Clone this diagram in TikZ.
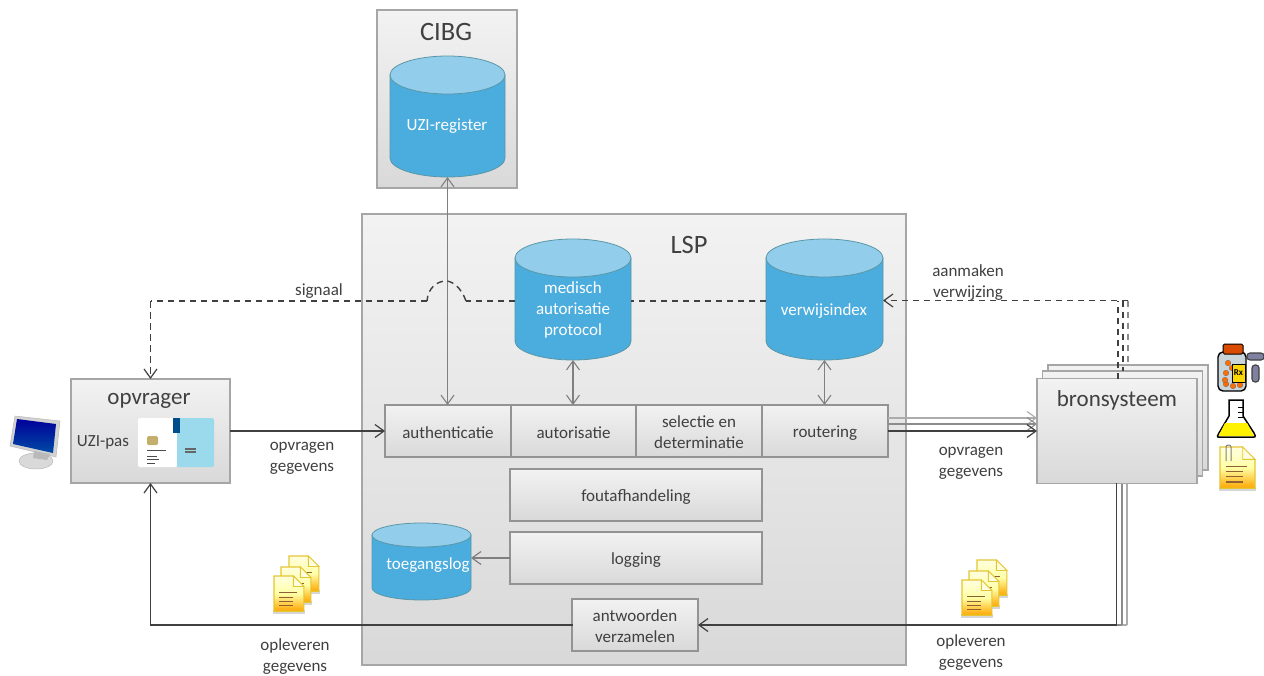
\documentclass[tikz,border=0pt]{standalone}
\usepackage{fontspec}
\setmainfont{Carlito}
\usetikzlibrary{arrows.meta,calc}
\definecolor{txt}{HTML}{404040}
\definecolor{edgegray}{HTML}{A6A6A6}
\definecolor{dbblue}{HTML}{4BACDE}
\definecolor{dbtop}{HTML}{92CEEC}
\definecolor{dbedge}{HTML}{5A97A6}
\definecolor{linedark}{HTML}{404040}
\definecolor{cardblue}{HTML}{9BD9EC}
\definecolor{chip}{HTML}{C4AE6E}
\definecolor{pill}{HTML}{8080A0}
\newcommand{\lowstrut}{\rule{0pt}{15pt}}
\tikzset{
  x=1pt,y=-1pt,
  every node/.style={font=\fontsize{17}{21}\selectfont,text=txt,inner sep=0pt,outer sep=0pt},
  grad/.style={draw=edgegray,line width=1.6pt,top color=gray!10,bottom color=gray!30},
  procbox/.style={grad,draw=gray!85,line width=1.2pt,align=center,anchor=center},
  lab/.style={align=center,text=txt},
  big/.style={font=\fontsize{26.5}{30}\selectfont},
  mid/.style={font=\fontsize{23}{27}\selectfont},
  dbtext/.style={align=center,text=white},
  tip/.style={-{Straight Barb[length=9pt,width=13pt,line width=1.2pt]}},
  flow/.style={draw=linedark,line width=1.4pt,line cap=rect},
  twoway/.style={draw=gray,line width=1.1pt,{Straight Barb[length=9pt,width=13pt]}-{Straight Barb[length=9pt,width=13pt]}},
  dash line/.style={draw=linedark,line width=1.4pt,dash pattern=on 6.5pt off 4.5pt},
  mid line/.style={draw=gray!90,line width=1.1pt},
  light line/.style={draw=gray!65,line width=1.1pt},
}
% name, centre x, top, bottom, half width, ellipse half height
\newcommand{\dbcyl}[6]{%
  \path[fill=dbblue,draw=dbedge,line width=.8pt]
    ({#2-#5},{#3+#6}) -- ({#2-#5},{#4-#6})
    .. controls ({#2-#5},{#4-#6*0.45}) and ({#2-#5*0.55},{#4}) .. ({#2},{#4})
    .. controls ({#2+#5*0.55},{#4}) and ({#2+#5},{#4-#6*0.45}) .. ({#2+#5},{#4-#6})
    -- ({#2+#5},{#3+#6}) -- cycle;
  \path[fill=dbtop,draw=dbedge,line width=.8pt]
    ({#2-#5},{#3+#6})
    .. controls ({#2-#5},{#3+#6*0.45}) and ({#2-#5*0.55},{#3}) .. ({#2},{#3})
    .. controls ({#2+#5*0.55},{#3}) and ({#2+#5},{#3+#6*0.45}) .. ({#2+#5},{#3+#6})
    .. controls ({#2+#5},{#3+#6*1.55}) and ({#2+#5*0.55},{#3+2*#6}) .. ({#2},{#3+2*#6})
    .. controls ({#2-#5*0.55},{#3+2*#6}) and ({#2-#5},{#3+#6*1.55}) .. ({#2-#5},{#3+#6}) -- cycle;
  \node[minimum width=2*#5 pt,minimum height={(#4-#3)*1pt}] (#1) at ({#2},{(#3+#4)/2}) {};
}
% document icon: x, y of top left, scale
\newcommand{\docicon}[3]{%
  \begin{scope}[shift={(#1,#2)},scale=#3]
    \fill[black!35,opacity=.45] (-1,39) rectangle (35,43);
    \path[top color=yellow!12!white,bottom color=orange!70!yellow,middle color=yellow!35!white,draw=yellow!55!brown,line width=1.1pt]
      (0,0) -- (22,0) -- (34,12) -- (34,40) -- (0,40) -- cycle;
    \path[fill=yellow!12,draw=yellow!55!brown,line width=.8pt] (22,0) -- (34,12) -- (22,12) -- cycle;
    \foreach \yy/\ww in {19/26,24/22,29/22,34/22}
      \draw[draw=brown!75!black,line width=1.1pt] (6,\yy) -- (\ww,\yy);
  \end{scope}}
\begin{document}
\begin{tikzpicture}
\useasboundingbox (0,0) rectangle (1264,675);
\fill[white] (0,0) rectangle (1264,675);

% panels
\node[grad,minimum width=140pt,minimum height=178pt] (cibg) at (447,99) {};
\node[big] (cibgt) at (446,32) {CIBG};
\node[grad,minimum width=544pt,minimum height=451pt] (lsp) at (634,439.5) {};
\node[big] (lspt) at (689,245) {LSP};

% cylinders
\dbcyl{uzi}{447.5}{56}{177}{57.5}{19}
\node[dbtext] (uzit) at (447,126) {UZI-register};
\dbcyl{map}{573}{239}{360}{58}{19}
\node[dbtext] (mapt) at (573,310) {medisch\\autorisatie\\protocol};
\dbcyl{vwi}{824.5}{239}{360}{58.5}{19}
\node[dbtext] (vwit) at (824,311) {verwijsindex};
\dbcyl{log}{421.5}{523}{600}{49.5}{12}
\node[dbtext] (logt) at (428,565) {toegangslog};

% process boxes
\node[procbox,minimum width=126pt,minimum height=52pt] (authent) at (448,431) {\lowstrut authenticatie};
\node[procbox,minimum width=125pt,minimum height=52pt] (autor) at (573.5,431) {\lowstrut autorisatie};
\node[procbox,minimum width=126pt,minimum height=52pt] (select) at (699,431) {\lowstrut selectie en\\determinatie};
\node[procbox,minimum width=126pt,minimum height=52pt] (rout) at (825,431) {\lowstrut routering};
\node[procbox,minimum width=252pt,minimum height=52pt] (fout) at (636,495) {\lowstrut foutafhandeling};
\node[procbox,minimum width=252pt,minimum height=52pt] (logging) at (636,558) {\lowstrut logging};
\node[procbox,minimum width=126pt,minimum height=52pt] (antw) at (635,625) {\lowstrut antwoorden\\verzamelen};

% request flows to the stack (heads sit against its edge)
\coordinate (routa) at ($(rout.east)+(0,-13)$);
\coordinate (routb) at ($(rout.east)+(0,-7)$);
\draw[light line,-{Straight Barb[length=9pt,width=13pt]}] (routa) -- (1037,418);
\draw[mid line,-{Straight Barb[length=9pt,width=13pt]}] (routb) -- (1037,424);

% answers: the two rear lines run behind the stack
\draw[light line] (1127,470) -- (1127,625);
\draw[light line] (1127,625) -- (700,625);
\draw[mid line] (1122,476) -- (1122,625);
\draw[mid line] (1122,625) -- (700,625);

% opvrager
\node[grad,minimum width=159pt,minimum height=104pt] (opv) at (150.5,431) {};
\node[mid] (opvt) at (149,401) {opvrager};
\node (uzipas) at (103,442) {UZI-pas};

% bronsysteem stack
\node[grad,minimum width=160pt,minimum height=105pt] (bron3) at (1128,417.5) {};
\node[grad,minimum width=160pt,minimum height=105pt] (bron2) at (1122.5,423.5) {};
\node[grad,minimum width=160pt,minimum height=105pt] (bron) at (1117,431) {};
\node[mid] (bront) at (1117,400) {bronsysteem};

% two-way connectors
\draw[twoway] (uzi.south) -- (uzi.south |- authent.north);
\draw[twoway] (map.south) -- (map.south |- autor.north);
\draw[twoway] (vwi.south) -- (vwi.south |- rout.north);
\draw[draw=gray,line width=1.1pt,tip] (logging.west) -- (logging.west -| log.east);

\draw[flow,line cap=butt,tip] (opv.east) -- (authent.west);
\draw[flow,line cap=butt,tip] (rout.east) -- (bron.west);

% signal
\coordinate (sigr) at (map.east |- 0,301);
\draw[dash line] (vwi.west |- sigr) -- (map.east |- sigr);
\coordinate (hopr) at (466,301);
\coordinate (hopl) at (427,301);
\draw[dash line] (map.west |- hopr) -- (hopr);
\draw[dash line] (hopr)
  .. controls (461,287) and (452,281) .. (446,281)
  .. controls (438,281) and (428,287) .. (hopl);
\draw[dash line] (hopl) -- (opv.north |- hopl);
\draw[dash line,tip] (opv.north |- hopl) -- (opv.north);

% aanmaken verwijzing
\coordinate (vwe) at (vwi.east |- 0,300.5);
\draw[dash line,draw=gray!90] (1128,300.5) -- (1128,365);
\draw[dash line] (1123,300.5) -- (1123,371);
\draw[dash line] (1118,379) -- (1118,300.5);
\draw[dash line,tip] (1128,300.5) -- (vwe);

% answers, front line
\coordinate (ansc) at (1116.5,625);
\draw[flow] (ansc |- bron.south) -- (ansc);
\draw[flow,line cap=butt,tip] (ansc) -- (antw.east);
\coordinate (ansl) at (opv.south |- antw.west);
\draw[flow] (antw.west) -- (ansl);
\draw[flow,line cap=butt,tip] (ansl) -- (opv.south);

% labels
\node[lab] (sig) at (319,291) {signaal};
\node[lab] (req1) at (302,458) {opvragen\\gegevens};
\node[lab] (req2) at (971,463) {opvragen\\gegevens};
\node[lab] (ans1) at (295,657) {opleveren\\gegevens};
\node[lab] (ans2) at (971,653) {opleveren\\gegevens};
\node[lab] (mk) at (968,283) {aanmaken\\verwijzing};

% UZI card
\fill[white,rounded corners=1.5pt] (138,418) rectangle (177,467);
\fill[cardblue,rounded corners=1.5pt] (177,418) rectangle (214,467);
\fill[blue!45!cyan!55!black] (173,418) rectangle (180,433);
\fill[chip,rounded corners=1.5pt] (147,436) rectangle (158,445);
\draw[black!70,line width=1pt] (147,450) -- (166,450) (147,456) -- (157,456) (147,459) -- (159,459) (147,463) -- (155,463);
\draw[black!60,line width=1.1pt] (185,449) -- (196,449) (185,452) -- (196,452);

% monitor icon
\path[fill=gray!35,draw=gray!55,line width=.5pt] (10,446) -- (15,416) -- (60,421) -- (56,457) -- cycle;
\path[top color=blue!60!black,bottom color=blue!55!cyan!65!black] (13,444) -- (17,419) -- (56,424) -- (53,453) -- cycle;
\path[fill=gray!30,draw=gray!55,line width=.5pt] (36,461) ellipse [x radius=17pt,y radius=8pt];
\fill[gray!55] (34,451) -- (50,454) -- (47,460) -- (33,458) -- cycle;

% prescription bottle
\path[fill=cyan!20!gray!40!white,draw=black,line width=1.4pt,rounded corners=5pt] (1218,352) rectangle (1246,391);
\path[fill=orange!70!red!85!black,draw=black,line width=1pt,rounded corners=1.5pt] (1223,344) rectangle (1243,354);
\foreach \px/\py in {1228/363,1226/373,1232/368,1226/384,1233/386,1240/385,1225/380}
  \fill[orange!85!red,draw=black!60,line width=.3pt] (\px,\py) circle[radius=2.8pt];
\path[fill=yellow!75!orange,draw=black,line width=.6pt] (1232,364) rectangle (1245,382);
\node[font=\fontsize{9}{9}\selectfont\bfseries,text=black] (rx) at (1238.5,373) {Rx};
\path[fill=pill,draw=black!75,line width=1.1pt,rounded corners=3pt] (1247,353) rectangle (1264,360);
\path[fill=pill,draw=black!75,line width=1.1pt,rounded corners=3pt] (1252,365) rectangle (1259,382);

% flask
\path[fill=white,draw=black,line width=1.5pt] (1229,400) -- (1243,400) -- (1243,416) -- (1254,433) .. controls (1257,438) and (1254,437) .. (1251,437) -- (1221,437) .. controls (1218,437) and (1216,438) .. (1219,433) -- (1229,416) -- cycle;
\path[fill=yellow] (1225,423) -- (1247,423) -- (1253,434) .. controls (1255,437) and (1253,436) .. (1251,436) -- (1221,436) .. controls (1219,436) and (1218,436) .. (1220,433) -- cycle;
\draw[black,line width=.8pt] (1243,407) -- (1238,407) (1243,412) -- (1238,412) (1243,417) -- (1238,417);

% documents
\docicon{1220}{447}{1.03}
\draw[gray,line width=1pt,rounded corners=2pt] (1226,461) -- (1226,445) -- (1231,445) -- (1231,461);
\docicon{977}{560}{.88}
\docicon{969}{571}{.88}
\docicon{962}{580}{.88}
\docicon{289}{556}{.88}
\docicon{281}{567}{.88}
\docicon{274}{576}{.88}
\end{tikzpicture}
\end{document}
